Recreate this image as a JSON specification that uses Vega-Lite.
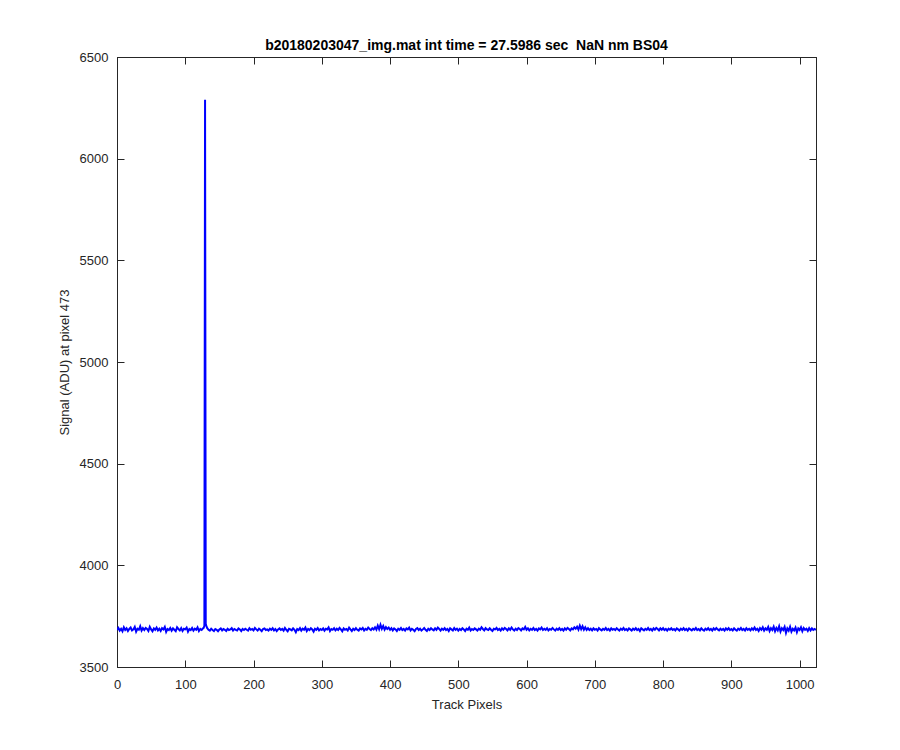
{
  "$schema": "https://vega.github.io/schema/vega-lite/v6.json",
  "autosize": "none",
  "width": 699,
  "height": 610,
  "padding": {"left": 117, "top": 57, "right": 84, "bottom": 83},
  "background": "white",
  "title": {
    "text": "b20180203047_img.mat int time = 27.5986 sec\u00a0 NaN nm BS04",
    "font": "Liberation Sans",
    "fontSize": 14,
    "fontWeight": "bold",
    "color": "#000000",
    "anchor": "middle",
    "offset": -2
  },
  "config": {
    "view": {"stroke": "#262626", "strokeWidth": 1},
    "axis": {
      "domainColor": "#262626",
      "tickColor": "#262626",
      "labelColor": "#262626",
      "titleColor": "#262626",
      "labelFont": "Liberation Sans",
      "titleFont": "Liberation Sans",
      "labelFontSize": 13,
      "titleFontSize": 13,
      "titleFontWeight": "normal",
      "grid": false,
      "tickSize": -7,
      "domainWidth": 1,
      "tickWidth": 1,
      "labelFlush": false,
      "format": "d"
    }
  },
  "data": {"values": [
{"x":0,"y":3683},{"x":2,"y":3692},{"x":4,"y":3679},{"x":6,"y":3688},{"x":8,"y":3676},{"x":10,"y":3695},{"x":12,"y":3682},{"x":14,"y":3690},{"x":16,"y":3677},{"x":18,"y":3687},
{"x":20,"y":3694},{"x":22,"y":3680},{"x":24,"y":3685},{"x":26,"y":3697},{"x":28,"y":3674},{"x":30,"y":3688},{"x":32,"y":3683},{"x":34,"y":3700},{"x":36,"y":3679},{"x":38,"y":3691},
{"x":40,"y":3682},{"x":42,"y":3692},{"x":44,"y":3687},{"x":46,"y":3677},{"x":48,"y":3698},{"x":50,"y":3685},{"x":52,"y":3676},{"x":54,"y":3690},{"x":56,"y":3683},{"x":58,"y":3694},
{"x":60,"y":3680},{"x":62,"y":3688},{"x":64,"y":3677},{"x":66,"y":3691},{"x":68,"y":3685},{"x":70,"y":3697},{"x":72,"y":3673},{"x":74,"y":3687},{"x":76,"y":3682},{"x":78,"y":3692},
{"x":80,"y":3679},{"x":82,"y":3690},{"x":84,"y":3683},{"x":86,"y":3676},{"x":88,"y":3695},{"x":90,"y":3687},{"x":92,"y":3680},{"x":94,"y":3691},{"x":96,"y":3677},{"x":98,"y":3688},
{"x":100,"y":3685},{"x":102,"y":3694},{"x":104,"y":3674},{"x":106,"y":3687},{"x":108,"y":3682},{"x":110,"y":3692},{"x":112,"y":3679},{"x":114,"y":3688},{"x":116,"y":3683},{"x":118,"y":3695},
{"x":120,"y":3677},{"x":122,"y":3687},{"x":124,"y":3682},{"x":126,"y":3690},{"x":127,"y":3692},{"x":128,"y":3703},{"x":129,"y":6290},{"x":130,"y":3712},{"x":131,"y":3701},{"x":132,"y":3692},
{"x":134,"y":3683},{"x":136,"y":3679},{"x":138,"y":3688},{"x":140,"y":3682},{"x":142,"y":3677},{"x":144,"y":3687},{"x":146,"y":3683},{"x":148,"y":3676},{"x":150,"y":3685},{"x":152,"y":3690},
{"x":154,"y":3680},{"x":156,"y":3687},{"x":158,"y":3683},{"x":160,"y":3677},{"x":162,"y":3688},{"x":164,"y":3682},{"x":166,"y":3685},{"x":168,"y":3691},{"x":170,"y":3679},{"x":172,"y":3687},
{"x":174,"y":3683},{"x":176,"y":3680},{"x":178,"y":3690},{"x":180,"y":3685},{"x":182,"y":3677},{"x":184,"y":3687},{"x":186,"y":3682},{"x":188,"y":3688},{"x":190,"y":3683},{"x":192,"y":3679},
{"x":194,"y":3691},{"x":196,"y":3683},{"x":198,"y":3687},{"x":200,"y":3680},{"x":202,"y":3692},{"x":204,"y":3685},{"x":206,"y":3679},{"x":208,"y":3688},{"x":210,"y":3683},{"x":212,"y":3676},
{"x":214,"y":3687},{"x":216,"y":3690},{"x":218,"y":3682},{"x":220,"y":3685},{"x":222,"y":3679},{"x":224,"y":3688},{"x":226,"y":3683},{"x":228,"y":3691},{"x":230,"y":3680},{"x":232,"y":3687},
{"x":234,"y":3677},{"x":236,"y":3685},{"x":238,"y":3690},{"x":240,"y":3682},{"x":242,"y":3687},{"x":244,"y":3679},{"x":246,"y":3692},{"x":248,"y":3683},{"x":250,"y":3676},{"x":252,"y":3688},
{"x":254,"y":3685},{"x":256,"y":3680},{"x":258,"y":3690},{"x":260,"y":3683},{"x":262,"y":3671},{"x":264,"y":3687},{"x":266,"y":3682},{"x":268,"y":3691},{"x":270,"y":3679},{"x":272,"y":3688},
{"x":274,"y":3683},{"x":276,"y":3694},{"x":278,"y":3677},{"x":280,"y":3687},{"x":282,"y":3682},{"x":284,"y":3691},{"x":286,"y":3685},{"x":288,"y":3674},{"x":290,"y":3688},{"x":292,"y":3683},
{"x":294,"y":3692},{"x":296,"y":3680},{"x":298,"y":3687},{"x":300,"y":3682},{"x":302,"y":3690},{"x":304,"y":3679},{"x":306,"y":3688},{"x":308,"y":3685},{"x":310,"y":3695},{"x":312,"y":3677},
{"x":314,"y":3687},{"x":316,"y":3683},{"x":318,"y":3691},{"x":320,"y":3680},{"x":322,"y":3688},{"x":324,"y":3682},{"x":326,"y":3692},{"x":328,"y":3685},{"x":330,"y":3676},{"x":332,"y":3690},
{"x":334,"y":3683},{"x":336,"y":3687},{"x":338,"y":3680},{"x":340,"y":3694},{"x":342,"y":3685},{"x":344,"y":3677},{"x":346,"y":3688},{"x":348,"y":3682},{"x":350,"y":3691},{"x":352,"y":3683},
{"x":354,"y":3679},{"x":356,"y":3690},{"x":358,"y":3685},{"x":360,"y":3692},{"x":362,"y":3680},{"x":364,"y":3688},{"x":366,"y":3683},{"x":368,"y":3694},{"x":370,"y":3687},{"x":372,"y":3682},
{"x":374,"y":3691},{"x":376,"y":3685},{"x":378,"y":3695},{"x":380,"y":3684},{"x":382,"y":3703},{"x":384,"y":3686},{"x":386,"y":3708},{"x":388,"y":3688},{"x":390,"y":3702},{"x":392,"y":3684},
{"x":394,"y":3696},{"x":396,"y":3687},{"x":398,"y":3694},{"x":400,"y":3683},{"x":402,"y":3691},{"x":404,"y":3680},{"x":406,"y":3690},{"x":408,"y":3685},{"x":410,"y":3677},{"x":412,"y":3688},
{"x":414,"y":3683},{"x":416,"y":3692},{"x":418,"y":3682},{"x":420,"y":3687},{"x":422,"y":3679},{"x":424,"y":3690},{"x":426,"y":3685},{"x":428,"y":3694},{"x":430,"y":3680},{"x":432,"y":3688},
{"x":434,"y":3683},{"x":436,"y":3676},{"x":438,"y":3687},{"x":440,"y":3691},{"x":442,"y":3682},{"x":444,"y":3688},{"x":446,"y":3679},{"x":448,"y":3685},{"x":450,"y":3692},{"x":452,"y":3683},
{"x":454,"y":3677},{"x":456,"y":3688},{"x":458,"y":3682},{"x":460,"y":3691},{"x":462,"y":3685},{"x":464,"y":3680},{"x":466,"y":3690},{"x":468,"y":3683},{"x":470,"y":3694},{"x":472,"y":3687},
{"x":474,"y":3679},{"x":476,"y":3688},{"x":478,"y":3683},{"x":480,"y":3691},{"x":482,"y":3682},{"x":484,"y":3687},{"x":486,"y":3677},{"x":488,"y":3690},{"x":490,"y":3685},{"x":492,"y":3680},
{"x":494,"y":3692},{"x":496,"y":3683},{"x":498,"y":3688},{"x":500,"y":3679},{"x":502,"y":3687},{"x":504,"y":3682},{"x":506,"y":3691},{"x":508,"y":3685},{"x":510,"y":3677},{"x":512,"y":3688},
{"x":514,"y":3683},{"x":516,"y":3694},{"x":518,"y":3680},{"x":520,"y":3687},{"x":522,"y":3682},{"x":524,"y":3690},{"x":526,"y":3685},{"x":528,"y":3679},{"x":530,"y":3688},{"x":532,"y":3683},
{"x":534,"y":3695},{"x":536,"y":3687},{"x":538,"y":3680},{"x":540,"y":3691},{"x":542,"y":3685},{"x":544,"y":3682},{"x":546,"y":3690},{"x":548,"y":3683},{"x":550,"y":3677},{"x":552,"y":3688},
{"x":554,"y":3685},{"x":556,"y":3692},{"x":558,"y":3682},{"x":560,"y":3687},{"x":562,"y":3679},{"x":564,"y":3690},{"x":566,"y":3683},{"x":568,"y":3692},{"x":570,"y":3687},{"x":572,"y":3680},
{"x":574,"y":3690},{"x":576,"y":3683},{"x":578,"y":3694},{"x":580,"y":3685},{"x":582,"y":3679},{"x":584,"y":3688},{"x":586,"y":3682},{"x":588,"y":3691},{"x":590,"y":3687},{"x":592,"y":3680},
{"x":594,"y":3690},{"x":596,"y":3685},{"x":598,"y":3697},{"x":600,"y":3683},{"x":602,"y":3690},{"x":604,"y":3680},{"x":606,"y":3688},{"x":608,"y":3683},{"x":610,"y":3692},{"x":612,"y":3682},
{"x":614,"y":3687},{"x":616,"y":3679},{"x":618,"y":3690},{"x":620,"y":3685},{"x":622,"y":3694},{"x":624,"y":3682},{"x":626,"y":3688},{"x":628,"y":3683},{"x":630,"y":3691},{"x":632,"y":3680},
{"x":634,"y":3687},{"x":636,"y":3683},{"x":638,"y":3692},{"x":640,"y":3685},{"x":642,"y":3679},{"x":644,"y":3688},{"x":646,"y":3683},{"x":648,"y":3691},{"x":650,"y":3682},{"x":652,"y":3687},
{"x":654,"y":3679},{"x":656,"y":3690},{"x":658,"y":3683},{"x":660,"y":3692},{"x":662,"y":3687},{"x":664,"y":3680},{"x":666,"y":3690},{"x":668,"y":3685},{"x":670,"y":3695},{"x":672,"y":3688},
{"x":674,"y":3698},{"x":676,"y":3684},{"x":678,"y":3703},{"x":680,"y":3686},{"x":682,"y":3700},{"x":684,"y":3683},{"x":686,"y":3695},{"x":688,"y":3682},{"x":690,"y":3691},{"x":692,"y":3682},
{"x":694,"y":3688},{"x":696,"y":3680},{"x":698,"y":3690},{"x":700,"y":3683},{"x":702,"y":3687},{"x":704,"y":3679},{"x":706,"y":3691},{"x":708,"y":3685},{"x":710,"y":3680},{"x":712,"y":3688},
{"x":714,"y":3683},{"x":716,"y":3692},{"x":718,"y":3682},{"x":720,"y":3687},{"x":722,"y":3679},{"x":724,"y":3690},{"x":726,"y":3683},{"x":728,"y":3687},{"x":730,"y":3682},{"x":732,"y":3691},
{"x":734,"y":3685},{"x":736,"y":3679},{"x":738,"y":3688},{"x":740,"y":3683},{"x":742,"y":3692},{"x":744,"y":3682},{"x":746,"y":3687},{"x":748,"y":3680},{"x":750,"y":3690},{"x":752,"y":3685},
{"x":754,"y":3679},{"x":756,"y":3688},{"x":758,"y":3683},{"x":760,"y":3691},{"x":762,"y":3682},{"x":764,"y":3687},{"x":766,"y":3677},{"x":768,"y":3690},{"x":770,"y":3685},{"x":772,"y":3680},
{"x":774,"y":3688},{"x":776,"y":3683},{"x":778,"y":3692},{"x":780,"y":3682},{"x":782,"y":3687},{"x":784,"y":3679},{"x":786,"y":3690},{"x":788,"y":3683},{"x":790,"y":3692},{"x":792,"y":3687},
{"x":794,"y":3680},{"x":796,"y":3690},{"x":798,"y":3683},{"x":800,"y":3691},{"x":802,"y":3682},{"x":804,"y":3687},{"x":806,"y":3679},{"x":808,"y":3688},{"x":810,"y":3683},{"x":812,"y":3690},
{"x":814,"y":3682},{"x":816,"y":3687},{"x":818,"y":3680},{"x":820,"y":3690},{"x":822,"y":3685},{"x":824,"y":3679},{"x":826,"y":3688},{"x":828,"y":3683},{"x":830,"y":3691},{"x":832,"y":3682},
{"x":834,"y":3687},{"x":836,"y":3679},{"x":838,"y":3690},{"x":840,"y":3685},{"x":842,"y":3680},{"x":844,"y":3688},{"x":846,"y":3683},{"x":848,"y":3692},{"x":850,"y":3682},{"x":852,"y":3687},
{"x":854,"y":3680},{"x":856,"y":3690},{"x":858,"y":3683},{"x":860,"y":3679},{"x":862,"y":3688},{"x":864,"y":3683},{"x":866,"y":3691},{"x":868,"y":3682},{"x":870,"y":3687},{"x":872,"y":3679},
{"x":874,"y":3690},{"x":876,"y":3683},{"x":878,"y":3692},{"x":880,"y":3685},{"x":882,"y":3680},{"x":884,"y":3688},{"x":886,"y":3682},{"x":888,"y":3687},{"x":890,"y":3679},{"x":892,"y":3690},
{"x":894,"y":3683},{"x":896,"y":3691},{"x":898,"y":3682},{"x":900,"y":3687},{"x":902,"y":3680},{"x":904,"y":3690},{"x":906,"y":3683},{"x":908,"y":3679},{"x":910,"y":3688},{"x":912,"y":3683},
{"x":914,"y":3692},{"x":916,"y":3682},{"x":918,"y":3687},{"x":920,"y":3679},{"x":922,"y":3691},{"x":924,"y":3683},{"x":926,"y":3688},{"x":928,"y":3680},{"x":930,"y":3690},{"x":932,"y":3683},
{"x":934,"y":3694},{"x":936,"y":3682},{"x":938,"y":3688},{"x":940,"y":3677},{"x":942,"y":3691},{"x":944,"y":3683},{"x":946,"y":3695},{"x":948,"y":3679},{"x":950,"y":3690},{"x":952,"y":3683},
{"x":954,"y":3697},{"x":956,"y":3677},{"x":958,"y":3691},{"x":960,"y":3682},{"x":962,"y":3698},{"x":964,"y":3676},{"x":966,"y":3692},{"x":968,"y":3680},{"x":970,"y":3700},{"x":972,"y":3674},
{"x":974,"y":3691},{"x":976,"y":3682},{"x":978,"y":3697},{"x":980,"y":3668},{"x":982,"y":3690},{"x":984,"y":3679},{"x":986,"y":3698},{"x":988,"y":3674},{"x":990,"y":3688},{"x":992,"y":3680},
{"x":994,"y":3694},{"x":996,"y":3671},{"x":998,"y":3690},{"x":1000,"y":3682},{"x":1002,"y":3695},{"x":1004,"y":3676},{"x":1006,"y":3692},{"x":1008,"y":3683},{"x":1010,"y":3688},{"x":1012,"y":3677},
{"x":1014,"y":3691},{"x":1016,"y":3680},{"x":1018,"y":3690},{"x":1020,"y":3682},{"x":1022,"y":3687},{"x":1024,"y":3683}
  ]},
  "layer": [
    {
      "mark": {"type": "line", "color": "#0000ff", "strokeWidth": 2, "clip": true},
      "encoding": {
        "x": {"field": "x", "type": "quantitative", "scale": {"domain": [0, 1024], "nice": false, "zero": false},
              "axis": {"orient": "bottom", "title": "Track Pixels", "values": [0,100,200,300,400,500,600,700,800,900,1000], "labelPadding": 18, "titlePadding": 7}},
        "y": {"field": "y", "type": "quantitative", "scale": {"domain": [3500, 6500], "nice": false, "zero": false},
              "axis": {"orient": "left", "title": "Signal (ADU) at pixel 473", "values": [3500,4000,4500,5000,5500,6000,6500], "labelPadding": 16, "titlePadding": 8}}
      }
    },
    {
      "mark": {"type": "line", "opacity": 0},
      "encoding": {
        "x": {"field": "x", "type": "quantitative",
              "axis": {"orient": "top", "title": null, "labels": false, "values": [0,100,200,300,400,500,600,700,800,900,1000]}},
        "y": {"field": "y", "type": "quantitative",
              "axis": {"orient": "right", "title": null, "labels": false, "values": [3500,4000,4500,5000,5500,6000,6500]}}
      }
    }
  ],
  "resolve": {"axis": {"x": "independent", "y": "independent"}}
}
